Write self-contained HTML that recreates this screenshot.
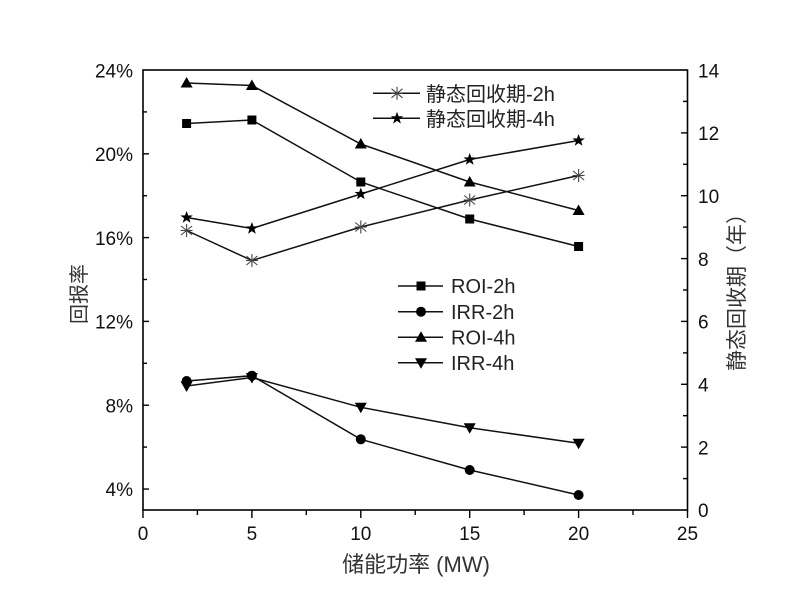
<!DOCTYPE html>
<html>
<head>
<meta charset="utf-8">
<style>
  html, body { margin: 0; padding: 0; background: #ffffff; }
  svg { display: block; }
  .num { font-family: "Liberation Sans", Arial, sans-serif; font-size: 19px; fill: #111; }
  .cjk { font-family: "Liberation Sans", "Noto Sans CJK SC", sans-serif; fill: #333; }
  .leg { font-family: "Liberation Sans", "Noto Sans CJK SC", sans-serif; font-size: 20px; fill: #222; }
</style>
</head>
<body>
<svg width="800" height="612" viewBox="0 0 800 612" xmlns="http://www.w3.org/2000/svg">
  <rect x="0" y="0" width="800" height="612" fill="#ffffff"/>

  <defs>
    <g id="sq"><rect x="-4.5" y="-4.5" width="9" height="9" fill="#000"/></g>
    <g id="ci"><circle cx="0" cy="0" r="5" fill="#000"/></g>
    <g id="tu"><polygon points="0,-6 6,4.5 -6,4.5" fill="#000"/></g>
    <g id="td"><polygon points="0,6 6,-4.5 -6,-4.5" fill="#000"/></g>
    <g id="st"><polygon points="0,-6.5 1.6,-2.1 6.2,-2 2.5,0.8 3.9,5.3 0,2.6 -3.9,5.3 -2.5,0.8 -6.2,-2 -1.6,-2.1" fill="#000"/></g>
    <g id="as" stroke="#444" stroke-width="1.1" fill="none">
      <line x1="0" y1="-6.5" x2="0" y2="6.5"/>
      <line x1="-5.5" y1="-4.5" x2="5.5" y2="4.5"/>
      <line x1="-5.5" y1="4.5" x2="5.5" y2="-4.5"/>
      <line x1="-6" y1="0" x2="6" y2="0"/>
    </g>
  </defs>

  <!-- frame -->
  <rect x="143" y="70" width="544.5" height="440" fill="none" stroke="#000" stroke-width="1.6"/>

  <!-- left ticks (inward) -->
  <g stroke="#000" stroke-width="1.4">
    <line x1="143" y1="489.05" x2="149" y2="489.05"/>
    <line x1="143" y1="405.2" x2="149" y2="405.2"/>
    <line x1="143" y1="321.4" x2="149" y2="321.4"/>
    <line x1="143" y1="237.6" x2="149" y2="237.6"/>
    <line x1="143" y1="153.8" x2="149" y2="153.8"/>
    <line x1="143" y1="447.1" x2="147" y2="447.1"/>
    <line x1="143" y1="363.3" x2="147" y2="363.3"/>
    <line x1="143" y1="279.5" x2="147" y2="279.5"/>
    <line x1="143" y1="195.7" x2="147" y2="195.7"/>
    <line x1="143" y1="111.9" x2="147" y2="111.9"/>
  </g>

  <!-- right ticks (inward) -->
  <g stroke="#000" stroke-width="1.4">
    <line x1="687.5" y1="447.1" x2="681" y2="447.1"/>
    <line x1="687.5" y1="384.3" x2="681" y2="384.3"/>
    <line x1="687.5" y1="321.4" x2="681" y2="321.4"/>
    <line x1="687.5" y1="258.6" x2="681" y2="258.6"/>
    <line x1="687.5" y1="195.7" x2="681" y2="195.7"/>
    <line x1="687.5" y1="132.9" x2="681" y2="132.9"/>
    <line x1="687.5" y1="478.6" x2="683" y2="478.6"/>
    <line x1="687.5" y1="415.7" x2="683" y2="415.7"/>
    <line x1="687.5" y1="352.9" x2="683" y2="352.9"/>
    <line x1="687.5" y1="290" x2="683" y2="290"/>
    <line x1="687.5" y1="227.1" x2="683" y2="227.1"/>
    <line x1="687.5" y1="164.3" x2="683" y2="164.3"/>
    <line x1="687.5" y1="101.4" x2="683" y2="101.4"/>
  </g>

  <!-- bottom ticks (outward) -->
  <g stroke="#000" stroke-width="1.4">
    <line x1="143" y1="510" x2="143" y2="518"/>
    <line x1="251.9" y1="510" x2="251.9" y2="518"/>
    <line x1="360.8" y1="510" x2="360.8" y2="518"/>
    <line x1="469.7" y1="510" x2="469.7" y2="518"/>
    <line x1="578.6" y1="510" x2="578.6" y2="518"/>
    <line x1="687.5" y1="510" x2="687.5" y2="518"/>
    <line x1="197.4" y1="510" x2="197.4" y2="515"/>
    <line x1="306.3" y1="510" x2="306.3" y2="515"/>
    <line x1="415.2" y1="510" x2="415.2" y2="515"/>
    <line x1="524.1" y1="510" x2="524.1" y2="515"/>
    <line x1="633" y1="510" x2="633" y2="515"/>
  </g>

  <!-- left tick labels -->
  <g class="num" text-anchor="end">
    <text x="133" y="77.5">24%</text>
    <text x="133" y="161">20%</text>
    <text x="133" y="244.8">16%</text>
    <text x="133" y="328.6">12%</text>
    <text x="133" y="412.4">8%</text>
    <text x="133" y="496.2">4%</text>
  </g>

  <!-- right tick labels -->
  <g class="num" text-anchor="start">
    <text x="698" y="77.5">14</text>
    <text x="698" y="140.1">12</text>
    <text x="698" y="202.9">10</text>
    <text x="698" y="265.8">8</text>
    <text x="698" y="328.6">6</text>
    <text x="698" y="391.5">4</text>
    <text x="698" y="454.3">2</text>
    <text x="698" y="517.2">0</text>
  </g>

  <!-- bottom tick labels -->
  <g class="num" text-anchor="middle">
    <text x="143" y="540">0</text>
    <text x="251.9" y="540">5</text>
    <text x="360.8" y="540">10</text>
    <text x="469.7" y="540">15</text>
    <text x="578.6" y="540">20</text>
    <text x="687.5" y="540">25</text>
  </g>

  <!-- axis titles -->
  <text class="cjk" x="416" y="572" font-size="22" text-anchor="middle">储能功率 (MW)</text>
  <text class="cjk" font-size="20" text-anchor="middle" transform="translate(86,294) rotate(-90)">回报率</text>
  <text class="cjk" font-size="21" text-anchor="middle" transform="translate(744,287) rotate(-90)">静态回收期（年）</text>

  <!-- series lines -->
  <g fill="none" stroke="#111" stroke-width="1.5">
    <polyline points="186.6,123.5 251.9,120 360.8,182 469.7,219 578.6,246.5"/>
    <polyline points="186.6,83 251.9,85.5 360.8,144 469.7,182 578.6,210.5"/>
    <polyline points="186.6,230.5 251.9,260.5 360.8,227 469.7,200 578.6,175.5"/>
    <polyline points="186.6,217.5 251.9,228.5 360.8,194 469.7,159.5 578.6,140.5"/>
    <polyline points="186.6,381 251.9,375.7 360.8,439.3 469.7,470 578.6,495"/>
    <polyline points="186.6,386 251.9,377.5 360.8,407.3 469.7,427.7 578.6,443.3"/>
  </g>

  <!-- markers: ROI-2h -->
  <use href="#sq" x="186.6" y="123.5"/><use href="#sq" x="251.9" y="120"/><use href="#sq" x="360.8" y="182"/><use href="#sq" x="469.7" y="219"/><use href="#sq" x="578.6" y="246.5"/>
  <!-- ROI-4h -->
  <use href="#tu" x="186.6" y="83"/><use href="#tu" x="251.9" y="85.5"/><use href="#tu" x="360.8" y="144"/><use href="#tu" x="469.7" y="182"/><use href="#tu" x="578.6" y="210.5"/>
  <!-- static-2h -->
  <use href="#as" x="186.6" y="230.5"/><use href="#as" x="251.9" y="260.5"/><use href="#as" x="360.8" y="227"/><use href="#as" x="469.7" y="200"/><use href="#as" x="578.6" y="175.5"/>
  <!-- static-4h -->
  <use href="#st" x="186.6" y="217.5"/><use href="#st" x="251.9" y="228.5"/><use href="#st" x="360.8" y="194"/><use href="#st" x="469.7" y="159.5"/><use href="#st" x="578.6" y="140.5"/>
  <!-- IRR-4h -->
  <use href="#td" x="186.6" y="386"/><use href="#td" x="251.9" y="377.5"/><use href="#td" x="360.8" y="407.3"/><use href="#td" x="469.7" y="427.7"/><use href="#td" x="578.6" y="443.3"/>
  <!-- IRR-2h -->
  <use href="#ci" x="186.6" y="381"/><use href="#ci" x="251.9" y="375.7"/><use href="#ci" x="360.8" y="439.3"/><use href="#ci" x="469.7" y="470"/><use href="#ci" x="578.6" y="495"/>

  <!-- legend 1 -->
  <g stroke="#111" stroke-width="1.5">
    <line x1="373" y1="93.3" x2="420" y2="93.3"/>
    <line x1="373" y1="118.3" x2="420" y2="118.3"/>
  </g>
  <use href="#as" x="397" y="93.3"/>
  <use href="#st" x="397" y="118.3"/>
  <text class="leg" x="426" y="101">静态回收期-2h</text>
  <text class="leg" x="426" y="126">静态回收期-4h</text>

  <!-- legend 2 -->
  <g stroke="#111" stroke-width="1.5">
    <line x1="398" y1="286" x2="443" y2="286"/>
    <line x1="398" y1="311.7" x2="443" y2="311.7"/>
    <line x1="398" y1="337.3" x2="443" y2="337.3"/>
    <line x1="398" y1="362.7" x2="443" y2="362.7"/>
  </g>
  <use href="#sq" x="421" y="286"/>
  <use href="#ci" x="421" y="311.7"/>
  <use href="#tu" x="421" y="337.3"/>
  <use href="#td" x="421" y="362.7"/>
  <g class="leg">
    <text x="451" y="293.2">ROI-2h</text>
    <text x="451" y="318.9">IRR-2h</text>
    <text x="451" y="344.5">ROI-4h</text>
    <text x="451" y="369.9">IRR-4h</text>
  </g>
</svg>
</body>
</html>
